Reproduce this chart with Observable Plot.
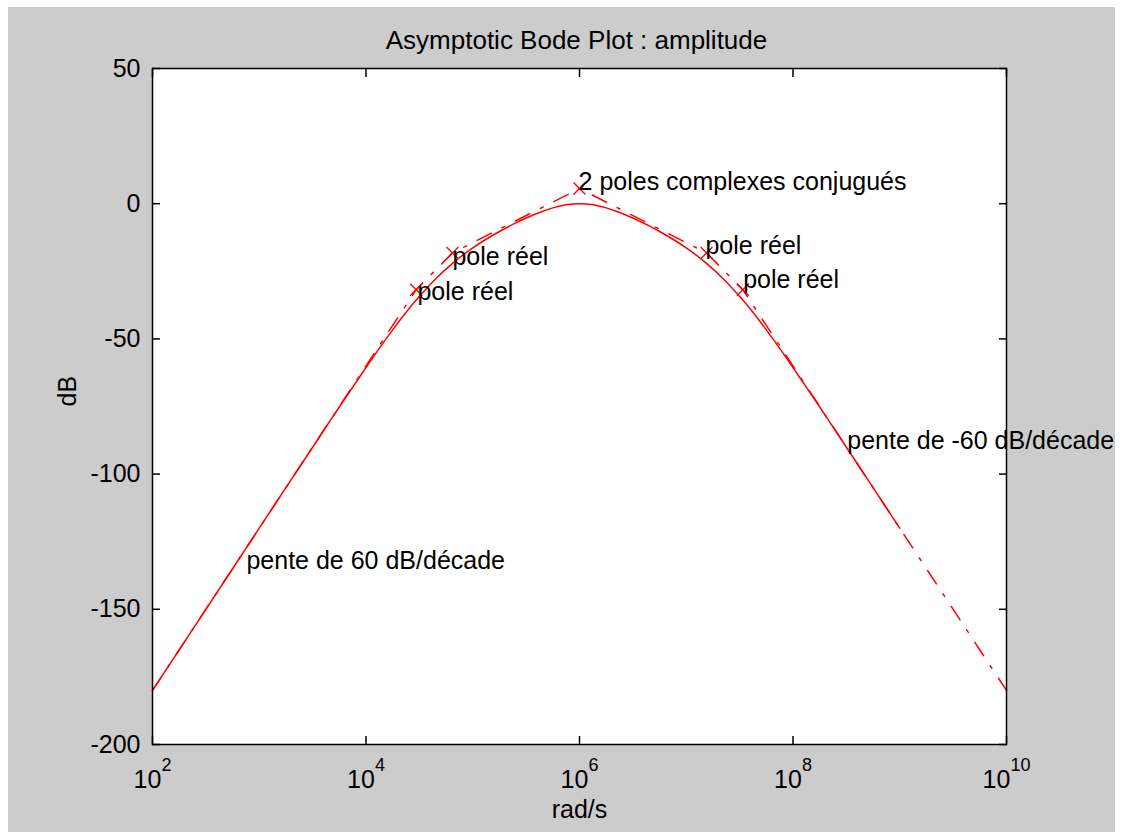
<!DOCTYPE html>
<html>
<head>
<meta charset="utf-8">
<script src="https://cdn.jsdelivr.net/npm/d3@7"></script>
<script src="https://cdn.jsdelivr.net/npm/@observablehq/plot@0.6"></script>
<style>
  html, body { margin: 0; padding: 0; background: #ffffff; }
  #wrap { position: relative; width: 1122px; height: 832px; overflow: hidden; }
  #fig { position: absolute; left: 8px; top: 7px; width: 1107px; height: 825px; background: #cccccc; }
  #chart { position: absolute; left: 0; top: 0; }
</style>
</head>
<body>
<div id="wrap"><div id="fig"></div><div id="chart"></div></div>
<script>
// ---- data ----
// actual magnitude curve (rad/s, dB)
const freq = [100, 316.2, 1000, 3162, 5623, 10000, 12589, 17783, 22387, 29512, 43652, 64565,
  100000, 133352, 177828, 237137, 316228, 421697, 562341, 749894, 1000000,
  1333521, 1778279, 2371374, 3162278, 4216965, 5623413, 7498942, 10000000,
  15488166, 22908677, 33884416, 44668359, 56234133, 79432823, 100000000,
  177827941, 316227766, 1000000000];
const gainDb = [-180.0, -150.0, -120.0, -90.06, -75.19, -60.58, -54.89, -46.67, -41.47, -35.64, -28.28, -22.06,
  -16.35, -13.15, -10.28, -7.67, -5.30, -3.23, -1.54, -0.42, -0.02,
  -0.42, -1.54, -3.23, -5.30, -7.67, -10.28, -13.15, -16.35,
  -22.06, -28.28, -35.64, -41.47, -46.67, -54.89, -60.58,
  -75.19, -90.06, -120.0];

// asymptotic (straight-line) approximation
const asymFreq = [100, 29512, 64565, 1000000, 15488166, 33884416, 1e10];
const asymDb = [-180, -31.8, -18.2, 5.6, -18.2, -31.8, -180];

// break points (poles)
const poleFreq = [29512, 64565, 1000000, 15488166, 33884416];
const poleDb = [-31.8, -18.2, 5.6, -18.2, -31.8];

// annotations
const labelText = ["pole réel", "pole réel", "2 poles complexes conjugués", "pole réel", "pole réel",
  "pente de 60 dB/décade", "pente de -60 dB/décade"];
const labelFreq = [30339, 64565, 979490, 15135612, 34119291, 758.6, 322106879];
const labelDb = [-35.5, -22.6, 5.2, -18.6, -31.2, -135.1, -90.7];

// ticks
const xTickValues = [1e2, 1e4, 1e6, 1e8, 1e10];
const xTickExp = ["2", "4", "6", "8", "10"];
const yTickValues = [-200, -150, -100, -50, 0, 50];
const yTickLabels = ["-200", "-150", "-100", "-50", "0", "50"];

const titleText = "Asymptotic Bode Plot : amplitude";
const xLabel = "rad/s";
const yLabel = "dB";

// ---- tables ----
const curve = freq.map((f, i) => ({f, db: gainDb[i]}));
const asym = asymFreq.map((f, i) => ({f, db: asymDb[i]}));
const poles = poleFreq.map((f, i) => ({f, db: poleDb[i]}));
const labels = labelText.map((t, i) => ({t, f: labelFreq[i], db: labelDb[i]}));
const xTicks = xTickValues.map((v, i) => ({v, lab: "10^" + xTickExp[i]}));
const yTicks = yTickValues.map((v, i) => ({v, lab: yTickLabels[i]}));

const FONT = "'Liberation Sans', Arial, Helvetica, sans-serif";
const red = "#ff0000";

const chart = Plot.plot({
  width: 1122,
  height: 832,
  marginLeft: 152,
  marginRight: 116,
  marginTop: 68,
  marginBottom: 88,
  x: {type: "log", domain: [1e2, 1e10]},
  y: {domain: [-200, 50]},
  style: {background: "transparent", fontFamily: FONT, color: "black", overflow: "visible", maxWidth: "none"},
  marks: [
    Plot.frame({fill: "white", stroke: "none"}),
    Plot.line(asym, {x: "f", y: "db", stroke: red, strokeWidth: 1.5, strokeDasharray: "16,12,3,12"}),
    Plot.line(curve, {x: "f", y: "db", stroke: red, strokeWidth: 1.5, curve: "catmull-rom"}),
    Plot.dot(poles, {x: "f", y: "db", symbol: "times", r: 5.5, stroke: red, strokeWidth: 1.3}),
    Plot.text(labels, {x: "f", y: "db", text: "t", textAnchor: "start", lineAnchor: "bottom",
      fontSize: 25, fill: "black"}),
    Plot.frame({stroke: "black", strokeWidth: 1.5}),
    Plot.axisX({anchor: "bottom", ticks: xTickValues, tickSize: -8, stroke: "black", strokeWidth: 1.5, fill: "none", label: null}),
    Plot.axisX({anchor: "top", ticks: xTickValues, tickSize: -8, stroke: "black", strokeWidth: 1.5, fill: "none", label: null}),
    Plot.axisY({anchor: "left", ticks: yTickValues, tickSize: -8, stroke: "black", strokeWidth: 1.5, fill: "none", label: null}),
    Plot.axisY({anchor: "right", ticks: yTickValues, tickSize: -8, stroke: "black", strokeWidth: 1.5, fill: "none", label: null}),
    Plot.text(xTicks, {x: "v", text: "lab", frameAnchor: "bottom", dy: 43, lineAnchor: "bottom",
      textAnchor: "middle", fontSize: 25, fill: "black"}),
    Plot.text(yTicks, {y: "v", text: "lab", frameAnchor: "left", dx: -12, textAnchor: "end",
      lineAnchor: "middle", fontSize: 25, fill: "black"}),
    Plot.text([titleText], {frameAnchor: "top", dx: -3, dy: -20, lineAnchor: "bottom", fontSize: 26, fill: "black"}),
    Plot.text([xLabel], {frameAnchor: "bottom", dy: 73, lineAnchor: "bottom", fontSize: 25, fill: "black"}),
    Plot.text([yLabel], {frameAnchor: "left", dx: -85, rotate: -90, fontSize: 25, fill: "black"})
  ]
});

// superscript exponents on x tick labels ("10^6" -> 10 with raised 6)
d3.select(chart).selectAll("text").each(function () {
  const s = this.textContent;
  if (s.indexOf("^") >= 0 && this.childElementCount === 0) {
    const parts = s.split("^");
    const sel = d3.select(this);
    sel.text(parts[0]);
    sel.append("tspan").attr("dy", -17).attr("font-size", 18).text(parts[1]);
  }
});

document.getElementById("chart").appendChild(chart);
</script>
</body>
</html>
